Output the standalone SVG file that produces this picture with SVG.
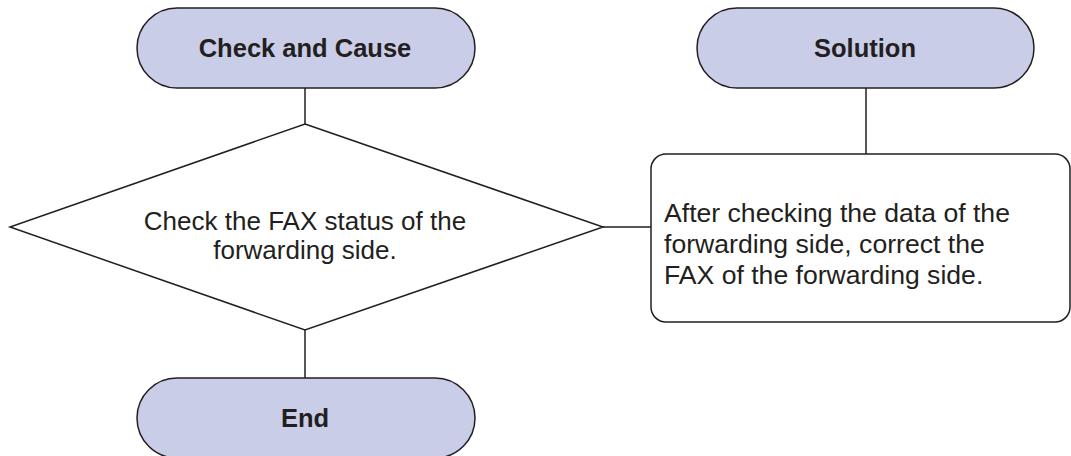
<svg xmlns="http://www.w3.org/2000/svg" width="1071" height="456" viewBox="0 0 1071 456">
<style>
.pill{fill:#c9cde8;stroke:#231f20;stroke-width:1.5}
.shape{fill:#ffffff;stroke:#231f20;stroke-width:1.5}
.conn{stroke:#231f20;stroke-width:1.5;fill:none}
.bt{font-family:"Liberation Sans",Arial,sans-serif;font-weight:bold;font-size:25.5px;fill:#231f20;text-anchor:middle}
.rt{font-family:"Liberation Sans",Arial,sans-serif;font-size:26px;fill:#231f20}
.bx{font-family:"Liberation Sans",Arial,sans-serif;font-size:26.6px;fill:#231f20}
</style>
<rect width="1071" height="456" fill="#ffffff"/>
<g id="connectors">
<line class="conn" x1="305" y1="88" x2="305" y2="124"/>
<line class="conn" x1="305" y1="330" x2="305" y2="378"/>
<line class="conn" x1="603" y1="227" x2="651" y2="227"/>
<line class="conn" x1="866" y1="88" x2="866" y2="154"/>
</g>
<g id="check-and-cause">
<rect class="pill" x="137" y="8" width="338" height="80" rx="40" ry="40"/>
<text class="bt" x="305" y="57">Check and Cause</text>
</g>
<g id="solution">
<rect class="pill" x="697" y="8" width="337" height="80" rx="40" ry="40"/>
<text class="bt" x="865" y="57">Solution</text>
</g>
<g id="decision">
<polygon class="shape" points="305,124 603,227 305,330 10,227"/>
<text class="rt" text-anchor="middle" x="305" y="230">Check the FAX status of the</text>
<text class="rt" text-anchor="middle" x="305" y="259">forwarding side.</text>
</g>
<g id="solution-box">
<rect class="shape" x="651" y="154" width="419" height="168" rx="15" ry="15"/>
<text class="bx" x="664" y="222">After checking the data of the</text>
<text class="bx" x="664" y="253">forwarding side, correct the</text>
<text class="bx" x="664" y="284">FAX of the forwarding side.</text>
</g>
<g id="end">
<rect class="pill" x="137" y="378" width="338" height="80" rx="40" ry="40"/>
<text class="bt" x="305" y="427">End</text>
</g>
</svg>
